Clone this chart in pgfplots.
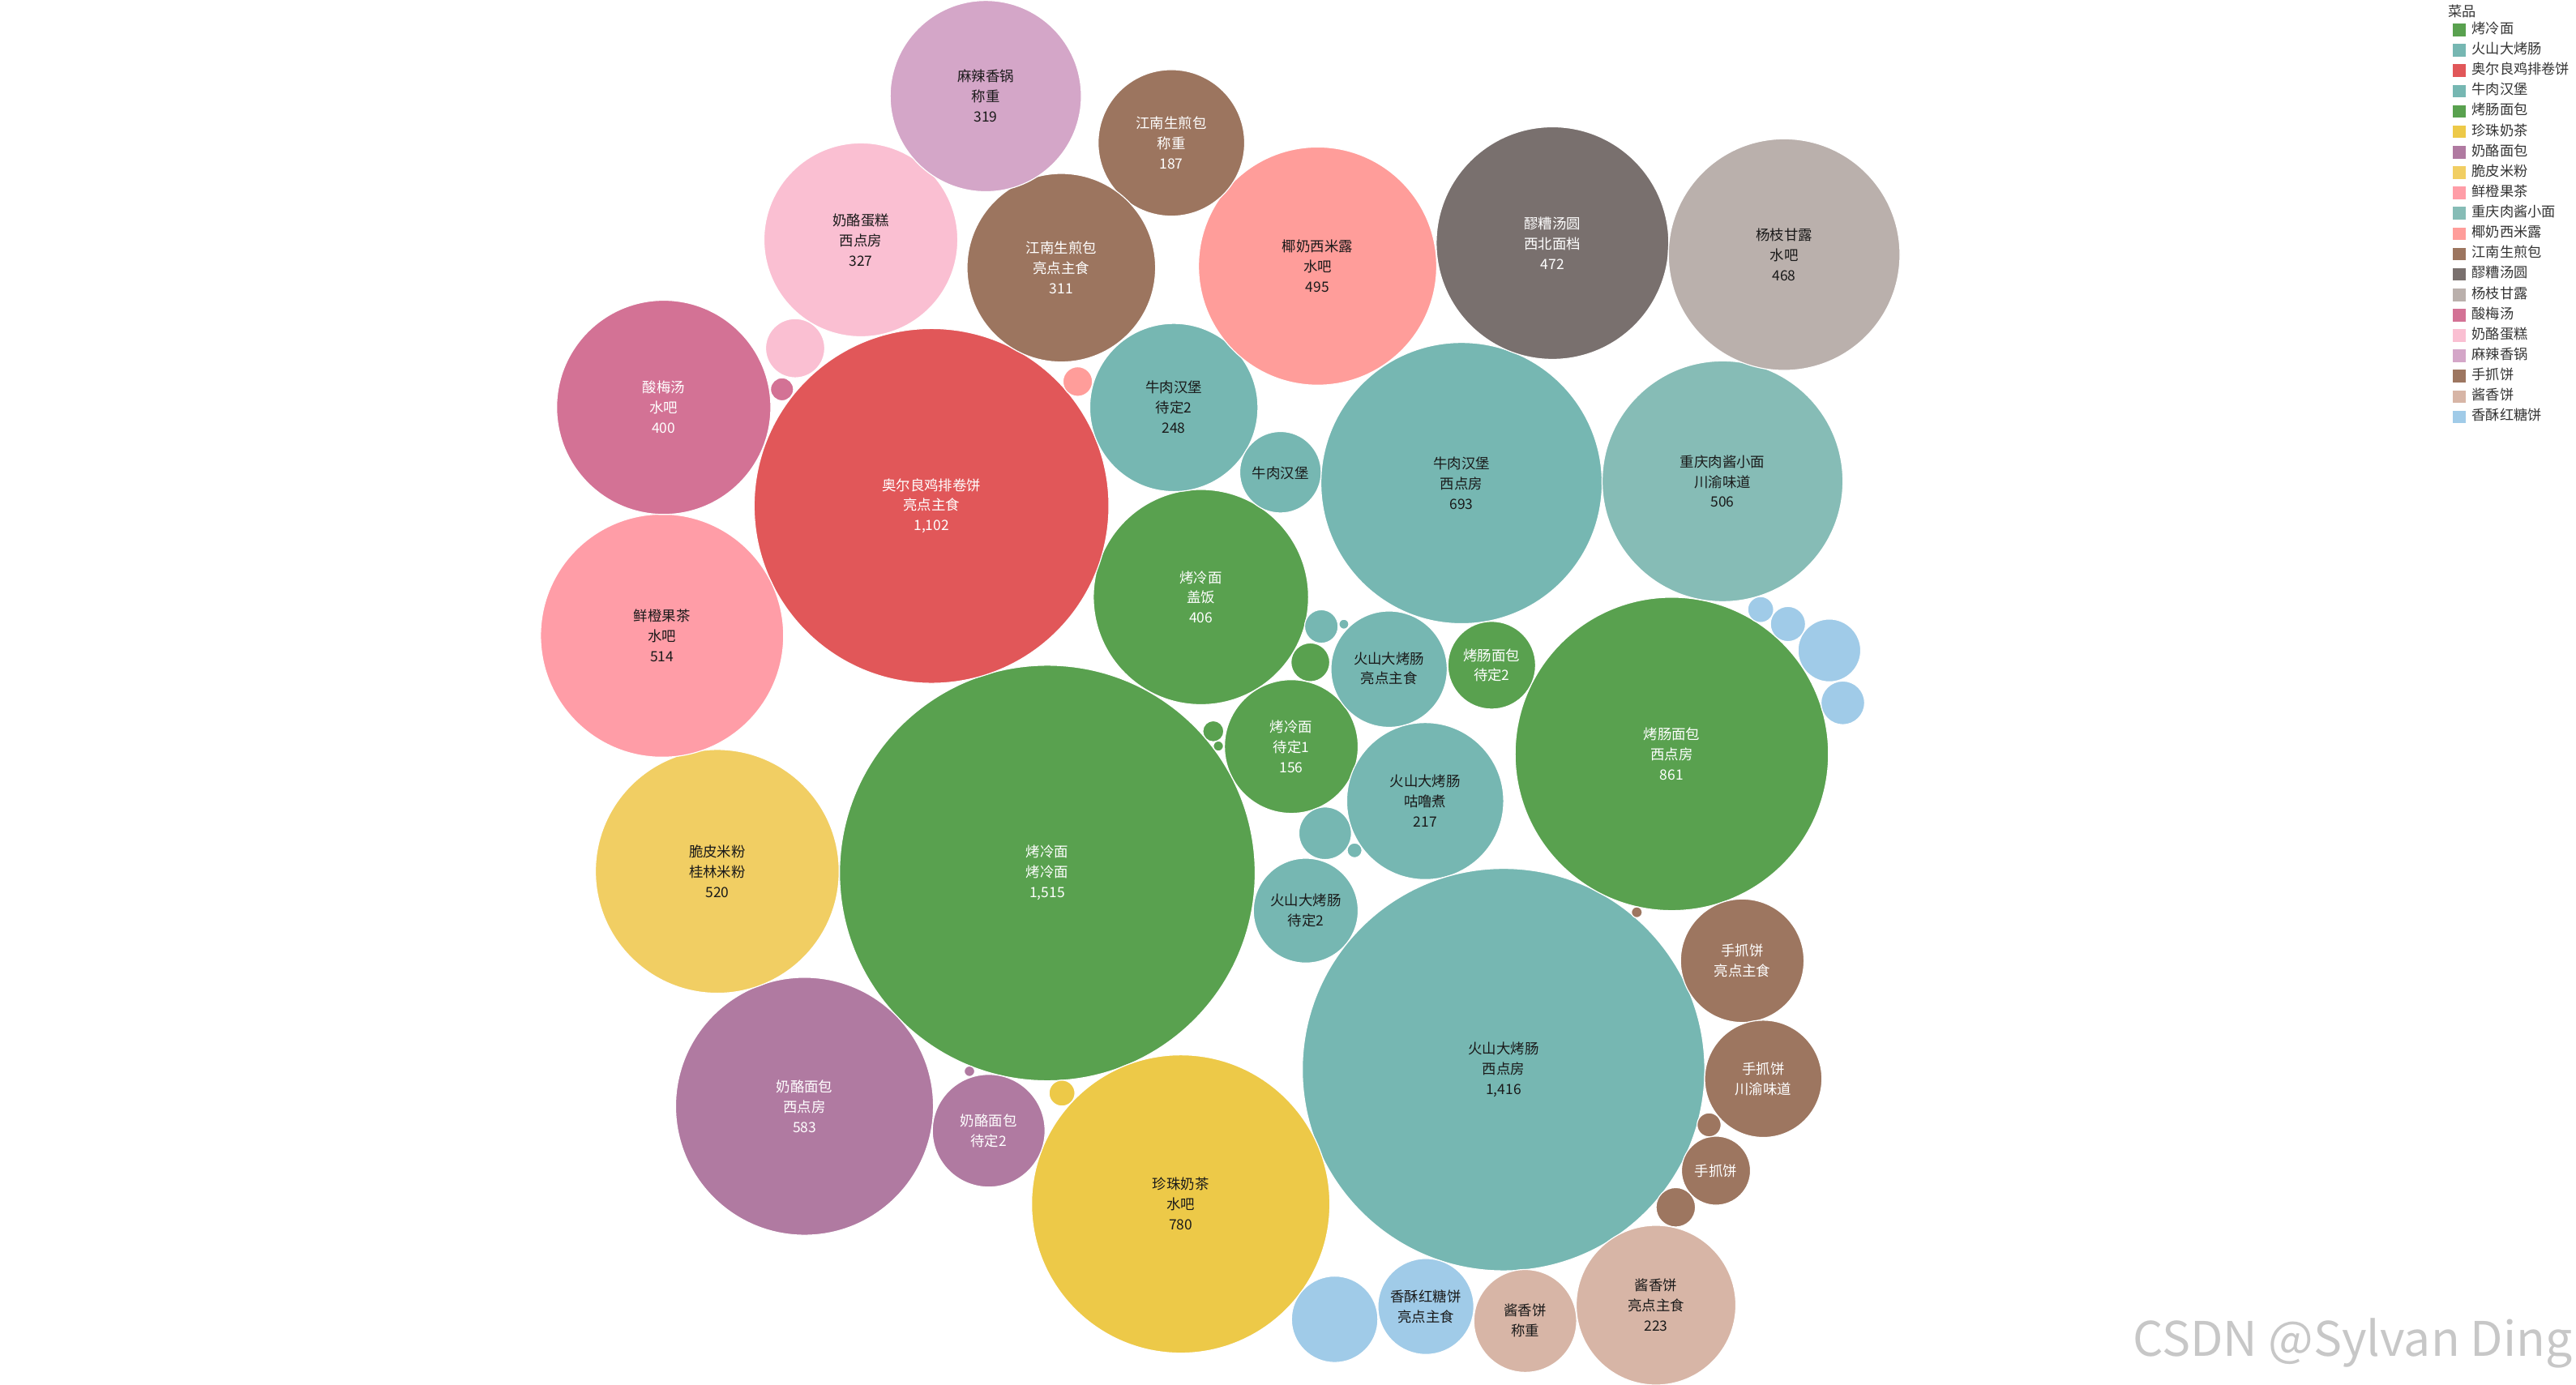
\documentclass[border=0pt]{standalone}
\usepackage{pgfplots}
\pgfplotsset{compat=1.18}
\usepackage{fontspec}
\setmainfont{Noto Sans CJK SC}
\definecolor{c01}{HTML}{59A14F}
\definecolor{c02}{HTML}{76B7B2}
\definecolor{c03}{HTML}{E15759}
\definecolor{c04}{HTML}{76B7B2}
\definecolor{c05}{HTML}{59A14F}
\definecolor{c06}{HTML}{EDC948}
\definecolor{c07}{HTML}{B07AA1}
\definecolor{c08}{HTML}{F1CE63}
\definecolor{c09}{HTML}{FF9DA7}
\definecolor{c10}{HTML}{86BCB6}
\definecolor{c11}{HTML}{FF9D9A}
\definecolor{c12}{HTML}{9C755F}
\definecolor{c13}{HTML}{79706E}
\definecolor{c14}{HTML}{BAB0AC}
\definecolor{c15}{HTML}{D37295}
\definecolor{c16}{HTML}{FABFD2}
\definecolor{c17}{HTML}{D4A6C8}
\definecolor{c18}{HTML}{9D7660}
\definecolor{c19}{HTML}{D7B5A6}
\definecolor{c20}{HTML}{A0CBE8}
\definecolor{legtxt}{HTML}{333333}
\definecolor{dk}{HTML}{1A1A1A}
\pgfplotsset{bub/.style={scatter, only marks, mark=*, forget plot,
  scatter/use mapped color={draw=white, fill=#1},
  visualization depends on={\thisrow{r}\as\rad},
  scatter/@pre marker code/.append style={/tikz/mark size=\rad pt},
  line width=0.6pt}}
\newcommand{\leg}[2]{\addlegendimage{legend image code/.code={\fill[#1] (0pt,-3.6pt) rectangle (7.2pt,3.6pt);}}\addlegendentry{#2}}
\newcommand{\labels}{%
\L{a01}{600}{58.5}{dk}{麻辣香锅\\称重\\319}%
\L{a02}{713}{87}{white}{江南生煎包\\称重\\187}%
\L{a03}{524}{146}{dk}{奶酪蛋糕\\西点房\\327}%
\L{a04}{646}{163}{white}{江南生煎包\\亮点主食\\311}%
\L{a05}{802}{162}{dk}{椰奶西米露\\水吧\\495}%
\L{a06}{945}{148}{white}{醪糟汤圆\\西北面档\\472}%
\L{a07}{1086}{155}{dk}{杨枝甘露\\水吧\\468}%
\L{a08}{404}{248}{white}{酸梅汤\\水吧\\400}%
\L{a09}{567}{308}{white}{奥尔良鸡排卷饼\\亮点主食\\1,102}%
\L{a10}{714.5}{248}{dk}{牛肉汉堡\\待定2\\248}%
\L{a11}{779.4}{288}{dk}{牛肉汉堡}%
\L{a12}{889.6}{294}{dk}{牛肉汉堡\\西点房\\693}%
\L{a13}{1048.5}{293}{dk}{重庆肉酱小面\\川渝味道\\506}%
\L{a14}{403}{387}{dk}{鲜橙果茶\\水吧\\514}%
\L{a15}{731}{363.5}{white}{烤冷面\\盖饭\\406}%
\L{a16}{845.5}{407}{dk}{火山大烤肠\\亮点主食}%
\L{a17}{908}{405}{white}{烤肠面包\\待定2}%
\L{a18}{1017.6}{459}{white}{烤肠面包\\西点房\\861}%
\L{a19}{786}{454.5}{white}{烤冷面\\待定1\\156}%
\L{a20}{867.5}{487.7}{dk}{火山大烤肠\\咕噜煮\\217}%
\L{a21}{794.8}{554.4}{dk}{火山大烤肠\\待定2}%
\L{a22}{436.6}{530.5}{dk}{脆皮米粉\\桂林米粉\\520}%
\L{a23}{637.5}{531.5}{white}{烤冷面\\烤冷面\\1,515}%
\L{a24}{915.2}{651.2}{dk}{火山大烤肠\\西点房\\1,416}%
\L{a25}{1060.5}{585}{white}{手抓饼\\亮点主食}%
\L{a26}{1073.3}{657}{white}{手抓饼\\川渝味道}%
\L{a27}{1044.5}{712.7}{white}{手抓饼}%
\L{a28}{489.7}{673.5}{white}{奶酪面包\\西点房\\583}%
\L{a29}{601.8}{688.4}{white}{奶酪面包\\待定2}%
\L{a30}{718.7}{733}{dk}{珍珠奶茶\\水吧\\780}%
\L{a31}{867.9}{795.4}{dk}{香酥红糖饼\\亮点主食}%
\L{a32}{928.4}{804}{dk}{酱香饼\\称重}%
\L{a33}{1008}{794.6}{dk}{酱香饼\\亮点主食\\223}%
\L{wm}{1566}{818}{black}{}%
\L{ttl}{1490}{7}{black}{}%
}
\begin{document}
\begin{tikzpicture}
\path[use as bounding box] (0,0) rectangle (1568pt,843pt);
\begin{axis}[
  at={(0,0)}, anchor=south west,
  width=1568pt, height=843pt, scale only axis,
  xmin=0, xmax=1568, ymin=0, ymax=843, y dir=reverse,
  hide axis, clip=false,
  legend cell align=left,
  legend style={at={(axis cs:1493,12)}, anchor=north west, draw=none, fill=none,
    inner sep=0pt, outer sep=0pt, font=\fontsize{8.5}{8.5}\selectfont, text=legtxt,
    row sep=0pt, nodes={inner sep=0pt, text height=8.4pt, text depth=4pt},
    /tikz/every odd column/.style={column sep=4pt}},
]
% 烤冷面
\addplot[bub=c01] table[row sep=\\] {x y r v\\ 731 363.5 65.5 406\\ 786 454.5 40.7 156\\ 637.5 531.5 126.5 1515\\ 797.6 403.2 11.8 13\\ 738.5 445.2 6.4 4\\ 741.6 454.2 3.1 1\\};
% 火山大烤肠
\addplot[bub=c02] table[row sep=\\] {x y r v\\ 845.5 407.4 35.4 118\\ 867.5 487.7 47.8 217\\ 794.8 554.4 31.9 96\\ 915.2 651.2 122.5 1416\\ 806.6 507.3 16 24\\ 824.5 517.7 4.5 2\\ 804.3 381.4 10.2 10\\ 818 380 3 1\\};
% 奥尔良鸡排卷饼
\addplot[bub=c03] table[row sep=\\] {x y r v\\ 567 308 108 1102\\};
% 牛肉汉堡
\addplot[bub=c04] table[row sep=\\] {x y r v\\ 714.5 248.1 51.2 248\\ 779.4 287.5 24.8 58\\ 889.6 294.1 85.6 693\\};
% 烤肠面包
\addplot[bub=c05] table[row sep=\\] {x y r v\\ 908 405 26.7 67\\ 1017.6 459 95.4 861\\};
% 珍珠奶茶
\addplot[bub=c06] table[row sep=\\] {x y r v\\ 718.7 733 90.8 780\\ 646.4 665.5 7.9 6\\};
% 奶酪面包
\addplot[bub=c07] table[row sep=\\] {x y r v\\ 489.7 673.5 78.5 583\\ 601.8 688.4 34.3 110\\ 590.1 652.2 3.2 1\\};
% 脆皮米粉
\addplot[bub=c08] table[row sep=\\] {x y r v\\ 436.6 530.5 74.2 520\\};
% 鲜橙果茶
\addplot[bub=c09] table[row sep=\\] {x y r v\\ 403 387 74 514\\};
% 重庆肉酱小面
\addplot[bub=c10] table[row sep=\\] {x y r v\\ 1048.5 293 73.3 506\\};
% 椰奶西米露
\addplot[bub=c11] table[row sep=\\] {x y r v\\ 802 162 72.5 495\\ 656 232.3 9 8\\};
% 江南生煎包
\addplot[bub=c12] table[row sep=\\] {x y r v\\ 713 87 44.6 187\\ 646 163 57.4 311\\};
% 醪糟汤圆
\addplot[bub=c13] table[row sep=\\] {x y r v\\ 945 148 70.8 472\\};
% 杨枝甘露
\addplot[bub=c14] table[row sep=\\] {x y r v\\ 1086 155 70.5 468\\};
% 酸梅汤
\addplot[bub=c15] table[row sep=\\] {x y r v\\ 404 248 65.2 400\\ 476 237 7 5\\};
% 奶酪蛋糕
\addplot[bub=c16] table[row sep=\\] {x y r v\\ 524 146 59 327\\ 484 212 18 30\\};
% 麻辣香锅
\addplot[bub=c17] table[row sep=\\] {x y r v\\ 600 58.5 58.2 319\\};
% 手抓饼
\addplot[bub=c18] table[row sep=\\] {x y r v\\ 1060.5 584.9 37.6 133\\ 1073.3 656.8 35.7 120\\ 1044.5 712.7 21 41\\ 1040.3 684.8 7.3 5\\ 1020 735 12 14\\ 996.3 555.4 3.3 1\\};
% 酱香饼
\addplot[bub=c19] table[row sep=\\] {x y r v\\ 1008 794.6 48.6 223\\ 928.4 804.2 31.3 92\\};
% 香酥红糖饼
\addplot[bub=c20] table[row sep=\\] {x y r v\\ 867.9 795.4 29.2 80\\ 812.4 803.2 26.3 65\\ 1071.7 371.1 7.9 6\\ 1088.3 379.9 10.7 11\\ 1113.5 396 19.1 34\\ 1121.7 427.9 13.3 17\\};

\leg{c01}{烤冷面}
\leg{c02}{火山大烤肠}
\leg{c03}{奥尔良鸡排卷饼}
\leg{c04}{牛肉汉堡}
\leg{c05}{烤肠面包}
\leg{c06}{珍珠奶茶}
\leg{c07}{奶酪面包}
\leg{c08}{脆皮米粉}
\leg{c09}{鲜橙果茶}
\leg{c10}{重庆肉酱小面}
\leg{c11}{椰奶西米露}
\leg{c12}{江南生煎包}
\leg{c13}{醪糟汤圆}
\leg{c14}{杨枝甘露}
\leg{c15}{酸梅汤}
\leg{c16}{奶酪蛋糕}
\leg{c17}{麻辣香锅}
\leg{c18}{手抓饼}
\leg{c19}{酱香饼}
\leg{c20}{香酥红糖饼}

\def\L#1#2#3#4#5{\coordinate (#1) at (axis cs:#2,#3);}
\labels
\end{axis}
\def\L#1#2#3#4#5{\node[align=center, text=#4, inner sep=0pt, font=\fontsize{8.6}{12.3}\selectfont] at (#1) {#5};}
\labels
\node[anchor=west, inner sep=0pt, text=legtxt, font=\fontsize{8.5}{8.5}\selectfont] at (ttl) {菜品};
\node[anchor=east, inner sep=0pt, text=black!22, font=\fontsize{29}{29}\selectfont] at (wm) {CSDN @Sylvan Ding};
\end{tikzpicture}
\end{document}
